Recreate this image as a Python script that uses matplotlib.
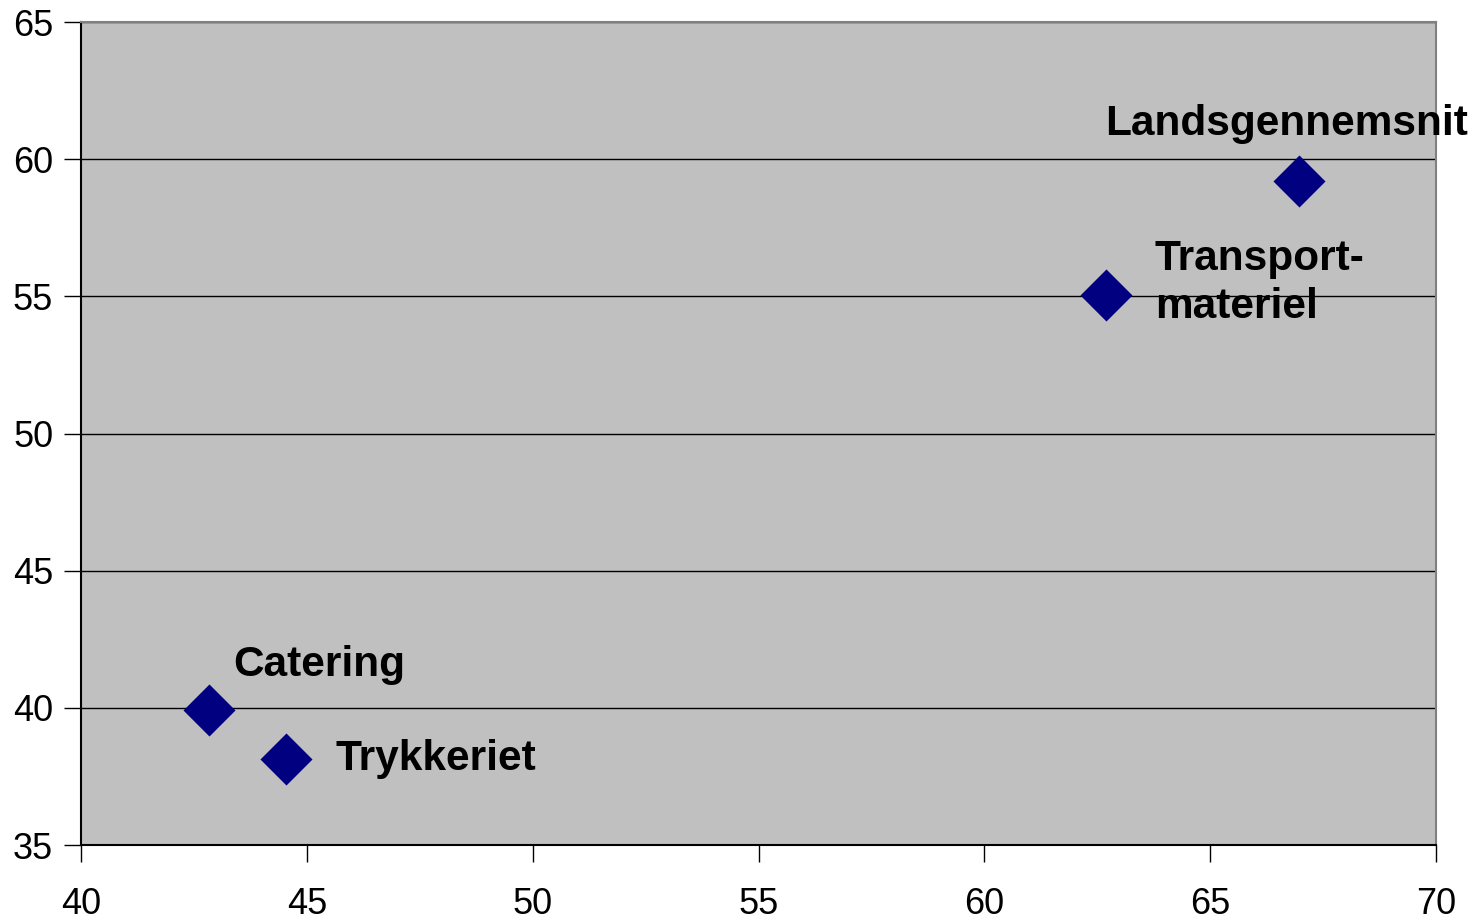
import matplotlib
matplotlib.use("Agg")
import matplotlib.pyplot as plt

plt.rcParams['font.family'] = ['Liberation Sans', 'DejaVu Sans']

# data
names = ["Catering", "Trykkeriet", "Transport-\nmateriel", "Landsgennemsnit"]
x_vals = [42.83, 44.54, 62.69, 66.96]
y_vals = [39.92, 38.13, 55.05, 59.2]

# label offsets in pixels from each point (layout only)
offsets = [(24, 34), (49, -11), (49, -23), (-194, 46)]

fig = plt.figure(figsize=(14.74, 9.19), dpi=100)
ax = fig.add_axes([81/1474, 1 - 845/919, (1436 - 81)/1474, (845 - 22)/919])
ax.set_facecolor("#c0c0c0")

ax.scatter(x_vals, y_vals, marker="D", s=26.5**2, color="#000080", zorder=3, linewidths=0)

for name, x, y, off in zip(names, x_vals, y_vals, offsets):
    ax.annotate(name, (x, y), xytext=off, textcoords="offset pixels",
                fontsize=30.5, fontweight="bold", ha="left", va="baseline",
                linespacing=1.25, annotation_clip=False, zorder=4)

ax.set_xlim(40, 70)
ax.set_ylim(35, 65)
ax.set_xticks(range(40, 71, 5))
ax.set_yticks(range(35, 66, 5))
ax.yaxis.grid(True, color="black", linewidth=1)
ax.set_axisbelow(True)

ax.tick_params(labelsize=26, length=12, width=1, direction="out")
ax.tick_params(axis="x", pad=18)
ax.tick_params(axis="y", pad=8)
for side in ["top", "right"]:
    ax.spines[side].set_color("#808080")
    ax.spines[side].set_linewidth(1.5)
ax.spines["left"].set_linewidth(1.5)
ax.spines["bottom"].set_linewidth(1.5)

fig.savefig("out.png", dpi=100)
